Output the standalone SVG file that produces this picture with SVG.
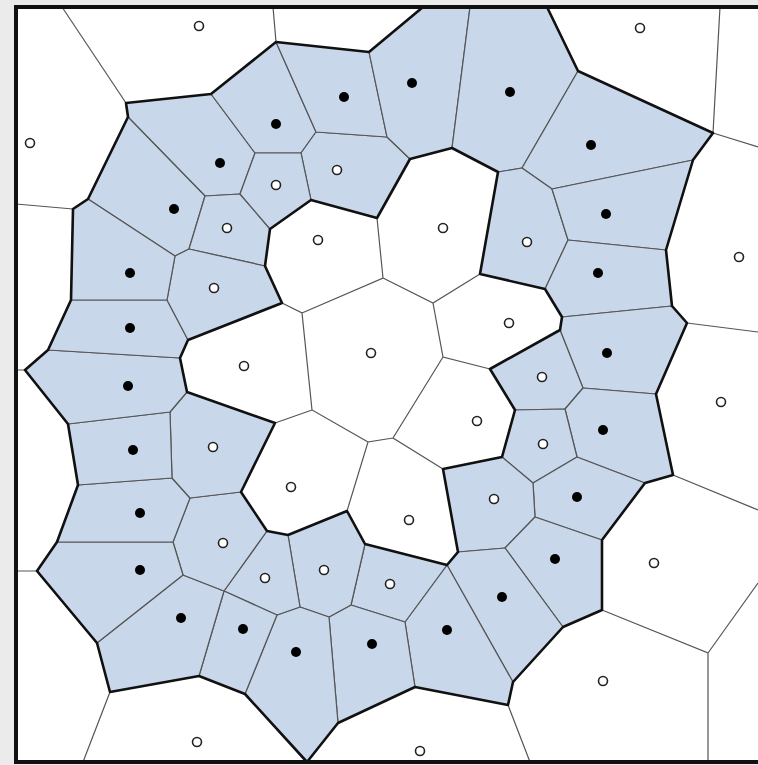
<svg xmlns="http://www.w3.org/2000/svg" width="758" height="765" viewBox="0 0 758 765">
<style>
.cell{fill:#c8d7ea;stroke:#555;stroke-width:1.2;stroke-linejoin:round}
.thin{fill:none;stroke:#555;stroke-width:1.2}
.thick{fill:none;stroke:#111;stroke-width:2.6;stroke-linejoin:round}
.b{fill:#000}
.o{fill:#fff;stroke:#222;stroke-width:1.6}
</style>
<rect x="0" y="0" width="758" height="765" fill="#ebebeb"/>
<rect x="16" y="7" width="760" height="755" fill="#fff"/>
<g id="cells">
<polygon class="cell" points="126,103 211,94 255,153 240,194 205,196 128,117"/>
<polygon class="cell" points="128,117 205,196 189,249 175,256 88,199"/>
<polygon class="cell" points="205,196 240,194 270,229 265,266 189,249"/>
<polygon class="cell" points="211,94 276,42 316,132 301,153 255,153"/>
<polygon class="cell" points="316,132 387,137 410,159 377,218 311,200 301,153"/>
<polygon class="cell" points="276,42 369,52 387,137 316,132"/>
<polygon class="cell" points="369,52 423,7 470,7 452,148 410,159 387,137"/>
<polygon class="cell" points="470,7 547,7 578,71 522,168 498,172 452,148"/>
<polygon class="cell" points="578,71 713,133 693,160 552,189 522,168"/>
<polygon class="cell" points="498,172 522,168 552,189 568,240 545,289 480,274"/>
<polygon class="cell" points="552,189 693,160 666,250 568,240"/>
<polygon class="cell" points="568,240 666,250 672,306 562,317 545,289"/>
<polygon class="cell" points="562,317 672,306 687,323 656,394 583,388 560,330"/>
<polygon class="cell" points="560,330 583,388 565,409 515,410 490,369"/>
<polygon class="cell" points="583,388 656,394 673,475 645,483 577,457 565,409"/>
<polygon class="cell" points="515,410 565,409 577,457 533,483 502,457"/>
<polygon class="cell" points="533,483 577,457 645,483 602,540 535,517"/>
<polygon class="cell" points="443,469 502,457 533,483 535,517 505,548 458,552"/>
<polygon class="cell" points="535,517 602,540 602,610 563,627 505,548"/>
<polygon class="cell" points="458,552 505,548 563,627 513,682 447,565"/>
<polygon class="cell" points="447,565 513,682 508,705 415,687 405,622"/>
<polygon class="cell" points="365,544 447,565 405,622 351,605"/>
<polygon class="cell" points="329,617 351,605 405,622 415,687 338,723"/>
<polygon class="cell" points="288,535 347,511 365,544 351,605 329,617 300,607"/>
<polygon class="cell" points="277,615 300,607 329,617 338,723 307,762 245,694"/>
<polygon class="cell" points="267,531 288,535 300,607 277,615 224,591"/>
<polygon class="cell" points="224,591 277,615 245,694 199,676"/>
<polygon class="cell" points="183,575 224,591 199,676 110,692 97,643"/>
<polygon class="cell" points="190,498 241,492 267,531 224,591 183,575 173,542"/>
<polygon class="cell" points="57,542 173,542 183,575 97,643 37,571"/>
<polygon class="cell" points="78,485 172,478 190,498 173,542 57,542"/>
<polygon class="cell" points="187,392 275,423 241,492 190,498 172,478 170,412"/>
<polygon class="cell" points="68,424 170,412 172,478 78,485"/>
<polygon class="cell" points="48,350 180,358 187,392 170,412 68,424 25,370"/>
<polygon class="cell" points="71,300 167,300 188,340 180,358 48,350"/>
<polygon class="cell" points="175,256 189,249 265,266 282,303 188,340 167,300"/>
<polygon class="cell" points="73,209 88,199 175,256 167,300 71,300"/>
<polygon class="cell" points="240,194 255,153 301,153 311,200 270,229"/>
</g>
<g id="edges">
<path class="thin" d="M62,7 L126,103 M16,204 L73,209 M16,370 L25,370 M16,571 L37,571 M110,692 L83,762 M508,705 L530,762 M602,610 L708,653 L708,762 M708,653 L758,583 M673,475 L758,510 M687,323 L758,332 M713,133 L758,147 M713,133 L720,7 M273,7 L276,42"/>
<path class="thin" d="M377,218 L383,278 L302,313 M383,278 L433,303 L480,274 M433,303 L443,357 L490,369 M443,357 L393,438 L443,469 M393,438 L368,442 L347,511 M368,442 L312,410 L302,313 L282,303 M312,410 L275,423"/>
<path class="thick" d="M423,7 L369,52 L276,42 L211,94 L126,103 L128,117 L88,199 L73,209 L71,300 L48,350 L25,370 L68,424 L78,485 L57,542 L37,571 L97,643 L110,692 L199,676 L245,694 L307,762 L338,723 L415,687 L508,705 L513,682 L563,627 L602,610 L602,540 L645,483 L673,475 L656,394 L687,323 L672,306 L666,250 L693,160 L713,133 L578,71 L547,7"/>
<path class="thick" d="M377,218 L410,159 L452,148 L498,172 L480,274 L545,289 L562,317 L560,330 L490,369 L515,410 L502,457 L443,469 L458,552 L447,565 L365,544 L347,511 L288,535 L267,531 L241,492 L275,423 L187,392 L180,358 L188,340 L282,303 L265,266 L270,229 L311,200 Z"/>
</g>
<g id="sites">
<circle class="b" cx="220" cy="163" r="5"/><circle class="b" cx="174" cy="209" r="5"/><circle class="b" cx="276" cy="124" r="5"/><circle class="b" cx="344" cy="97" r="5"/><circle class="b" cx="412" cy="83" r="5"/><circle class="b" cx="510" cy="92" r="5"/><circle class="b" cx="591" cy="145" r="5"/><circle class="b" cx="606" cy="214" r="5"/><circle class="b" cx="598" cy="273" r="5"/><circle class="b" cx="607" cy="353" r="5"/><circle class="b" cx="603" cy="430" r="5"/><circle class="b" cx="577" cy="497" r="5"/><circle class="b" cx="555" cy="559" r="5"/><circle class="b" cx="502" cy="597" r="5"/><circle class="b" cx="447" cy="630" r="5"/><circle class="b" cx="372" cy="644" r="5"/><circle class="b" cx="296" cy="652" r="5"/><circle class="b" cx="243" cy="629" r="5"/><circle class="b" cx="181" cy="618" r="5"/><circle class="b" cx="140" cy="570" r="5"/><circle class="b" cx="140" cy="513" r="5"/><circle class="b" cx="133" cy="450" r="5"/><circle class="b" cx="128" cy="386" r="5"/><circle class="b" cx="130" cy="328" r="5"/><circle class="b" cx="130" cy="273" r="5"/>
<circle class="o" cx="199" cy="26" r="4.5"/><circle class="o" cx="30" cy="143" r="4.5"/><circle class="o" cx="640" cy="28" r="4.5"/><circle class="o" cx="739" cy="257" r="4.5"/><circle class="o" cx="721" cy="402" r="4.5"/><circle class="o" cx="654" cy="563" r="4.5"/><circle class="o" cx="603" cy="681" r="4.5"/><circle class="o" cx="420" cy="751" r="4.5"/><circle class="o" cx="197" cy="742" r="4.5"/><circle class="o" cx="227" cy="228" r="4.5"/><circle class="o" cx="337" cy="170" r="4.5"/><circle class="o" cx="276" cy="185" r="4.5"/><circle class="o" cx="318" cy="240" r="4.5"/><circle class="o" cx="443" cy="228" r="4.5"/><circle class="o" cx="371" cy="353" r="4.5"/><circle class="o" cx="509" cy="323" r="4.5"/><circle class="o" cx="244" cy="366" r="4.5"/><circle class="o" cx="477" cy="421" r="4.5"/><circle class="o" cx="291" cy="487" r="4.5"/><circle class="o" cx="409" cy="520" r="4.5"/><circle class="o" cx="214" cy="288" r="4.5"/><circle class="o" cx="213" cy="447" r="4.5"/><circle class="o" cx="223" cy="543" r="4.5"/><circle class="o" cx="265" cy="578" r="4.5"/><circle class="o" cx="324" cy="570" r="4.5"/><circle class="o" cx="390" cy="584" r="4.5"/><circle class="o" cx="494" cy="499" r="4.5"/><circle class="o" cx="543" cy="444" r="4.5"/><circle class="o" cx="542" cy="377" r="4.5"/><circle class="o" cx="527" cy="242" r="4.5"/>
</g>
<rect x="16" y="7" width="760" height="755" fill="none" stroke="#111" stroke-width="4"/>
</svg>
